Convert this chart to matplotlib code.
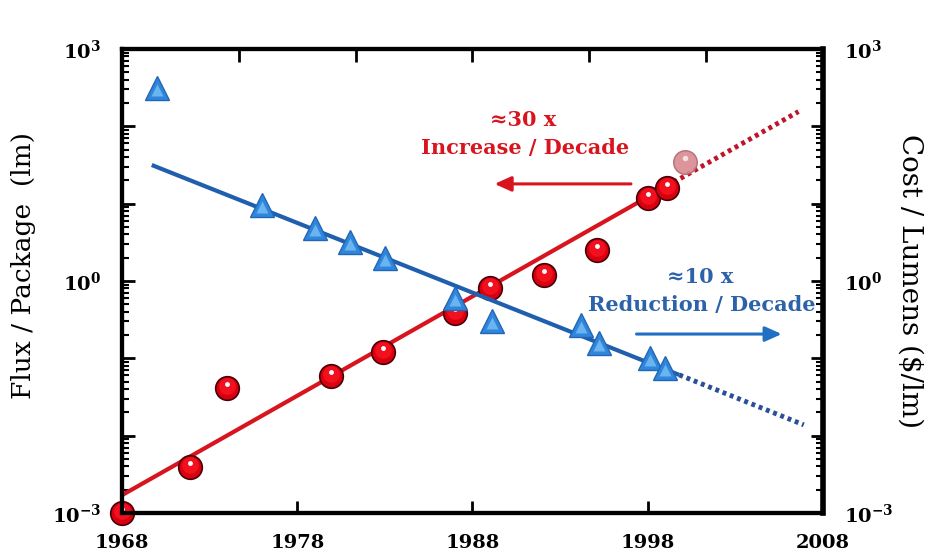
import numpy as np
import matplotlib
matplotlib.use("Agg")
import matplotlib.pyplot as plt
from matplotlib.ticker import FixedLocator, LogLocator, FuncFormatter, NullFormatter
from matplotlib.transforms import offset_copy

plt.rcParams['font.family'] = ['DejaVu Serif']
plt.rcParams['mathtext.fontset'] = 'custom'
plt.rcParams['mathtext.rm'] = 'DejaVu Serif:bold'
plt.rcParams['mathtext.it'] = 'DejaVu Serif:bold'
plt.rcParams['mathtext.bf'] = 'DejaVu Serif:bold'

# flux per package (lm), red spheres
flux_years = [1968, 1971.9, 1974.0, 1979.9, 1982.9, 1987.0, 1989.0, 1992.1, 1995.1, 1998.0, 1999.1]
flux_lm = [0.001, 0.0039, 0.041, 0.059, 0.12, 0.39, 0.81, 1.2, 2.5, 11.7, 15.8]
flux_proj_year = [2000.1]
flux_proj_lm = [35]
flux_fit_years = [1968, 1999.1]
flux_fit = [0.0017, 16.9]
flux_ext_years = [1999.1, 2006.6]
flux_ext = [16.9, 155]

# cost per lumen ($/lm), blue triangles
cost_years = [1970.0, 1976.0, 1979.0, 1981.0, 1983.0, 1987.0, 1989.1, 1994.2, 1995.2, 1998.1, 1999.0]
cost_lm = [316, 9.5, 4.9, 3.2, 2.0, 0.60, 0.30, 0.27, 0.16, 0.10, 0.076]
cost_fit_years = [1969.7, 1999.8]
cost_fit = [31.6, 0.061]
cost_ext_years = [1999.8, 2006.9]
cost_ext = [0.061, 0.0138]

year_ticks = [1968, 1978, 1988, 1998, 2008]
top_ticks = np.linspace(1968, 2008, 7)

RED = '#d8141f'
RED_DOT = '#c0142a'
BLUE = '#1f5fae'
BLUE_DOT = '#2a4f96'


def log_axis(a, side):
    a.set_yscale('log')
    a.set_ylim(1e-3, 1e3)
    a.yaxis.set_major_locator(FixedLocator([10.0 ** k for k in range(-3, 4)]))
    a.yaxis.set_minor_locator(LogLocator(base=10, subs=np.arange(2, 10), numticks=20))
    a.yaxis.set_minor_formatter(NullFormatter())
    a.yaxis.set_major_formatter(FuncFormatter(
        lambda v, p: r'$10^{%d}$' % round(np.log10(v)) if round(np.log10(v)) in (-3, 0, 3) else ''))
    a.tick_params(axis='y', which='major', direction='in', length=9, width=2,
                  labelsize=14, pad=15, left=(side == 'left'), right=(side == 'right'),
                  labelleft=(side == 'left'), labelright=(side == 'right'))
    a.tick_params(axis='y', which='minor', direction='in', length=5, width=1.5,
                  left=(side == 'left'), right=(side == 'right'))


fig = plt.figure(figsize=(9.26, 5.54), dpi=100)
ax = fig.add_axes([0.1317, 0.074, 0.7571, 0.8376])
ax.set_xlim(1968, 2008)
log_axis(ax, 'left')
ax.set_xticks(year_ticks)
ax.set_xticklabels([str(y) for y in year_ticks], fontweight='bold')
ax.tick_params(axis='x', direction='in', length=9, width=2, labelsize=14, pad=15)
for s in ax.spines.values():
    s.set_linewidth(3)

# flux trend and data
ax.plot(flux_fit_years, flux_fit, color=RED, lw=3, solid_capstyle='butt', zorder=2)
ax.plot(flux_ext_years, flux_ext, color=RED_DOT, lw=3.5, ls=(0, (0.8, 0.8)), zorder=2)
ax.plot(flux_years, flux_lm, 'o', ms=17, mfc='#d8000f', mec='#4a0008', mew=1.2,
        clip_on=False, zorder=3)
ax.plot(flux_years, flux_lm, 'o', ms=12, mfc='#f2101e', mec='none', clip_on=False, zorder=4,
        transform=offset_copy(ax.transData, fig=fig, x=0, y=2, units='dots'))
ax.plot(flux_years, flux_lm, 'o', ms=3.5, mfc='white', mec='none', clip_on=False, zorder=5,
        transform=offset_copy(ax.transData, fig=fig, x=0, y=4, units='dots'))
ax.plot(flux_proj_year, flux_proj_lm, 'o', ms=17, mfc='#d88a90', mec='#b06670', mew=1,
        zorder=3, alpha=0.9)
ax.plot(flux_proj_year, flux_proj_lm, 'o', ms=4, mfc='#f4e0e2', mec='none', zorder=4,
        transform=offset_copy(ax.transData, fig=fig, x=0, y=4, units='dots'))

ax.set_ylabel('Flux / Package  (lm)', fontsize=19, va='center')
ax.yaxis.set_label_coords(-0.14, 0.534)

# annotations
ax.text(1990.9, 10 ** 2.08, '≈30 x', color=RED, fontsize=15, fontweight='bold',
        ha='center', va='center')
ax.text(1991.0, 10 ** 1.72, 'Increase / Decade', color=RED, fontsize=15, fontweight='bold',
        ha='center', va='center')
ax.annotate('', xy=(1989.1, 18), xytext=(1997.2, 18),
            arrowprops=dict(arrowstyle='-|>,head_length=1.0,head_width=0.45', color=RED, lw=2.2))

# cost axis
ax2 = ax.twinx()
ax2.set_xlim(1968, 2008)
log_axis(ax2, 'right')
ax2.set_ylabel('Cost / Lumens ($/lm)', fontsize=20, rotation=270, va='center')
ax2.yaxis.set_label_coords(1.124, 0.5)
for s in ax2.spines.values():
    s.set_linewidth(3)
ax2.spines['right'].set_linewidth(4)

ax2.plot(cost_fit_years, cost_fit, color=BLUE, lw=3, solid_capstyle='butt', zorder=2)
ax2.plot(cost_ext_years, cost_ext, color=BLUE_DOT, lw=3.5, ls=(0, (0.8, 0.8)), zorder=2)
ax2.plot(cost_years, cost_lm, '^', ms=17, mfc='#2f86dc', mec='#2366b4', mew=1, zorder=3)
ax2.plot(cost_years, cost_lm, '^', ms=8, mfc='#6ab4f0', mec='none', zorder=4,
         transform=offset_copy(ax2.transData, fig=fig, x=0, y=-2, units='dots'))

ax2.text(2001.0, 10 ** 0.05, '≈10 x', color='#2b62a8', fontsize=15, fontweight='bold',
         ha='center', va='center')
ax2.text(2001.1, 10 ** -0.31, 'Reduction / Decade', color='#2b62a8', fontsize=15,
         fontweight='bold', ha='center', va='center')
ax2.annotate('', xy=(2005.8, 0.206), xytext=(1997.2, 0.206),
             arrowprops=dict(arrowstyle='-|>,head_length=1.0,head_width=0.45', color='#1f6fc4', lw=2.2))

# top ticks (unlabelled)
ax3 = ax.twiny()
ax3.set_xlim(1968, 2008)
ax3.set_xticks(top_ticks)
ax3.set_xticklabels([])
ax3.tick_params(axis='x', direction='in', length=9, width=2)
ax3.yaxis.set_visible(False)

fig.savefig('out.png', dpi=100)
